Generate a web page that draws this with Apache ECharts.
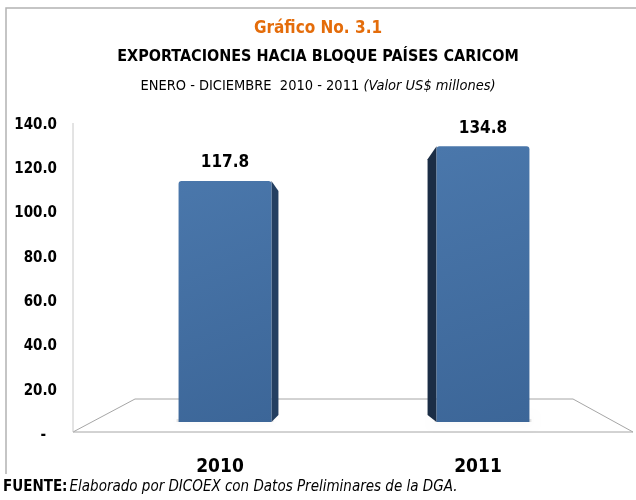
<!DOCTYPE html>
<html>
<head>
<meta charset="utf-8">
<script src="https://cdn.jsdelivr.net/npm/echarts@6/dist/echarts.min.js"></script>
<style>
  html, body { margin: 0; padding: 0; background: #fff; }
  #chart { width: 636px; height: 500px; }
</style>
</head>
<body>
<div id="chart"></div>
<script>
// data
var years = ['2010', '2011'];
var exportValues = [117.8, 134.8];
var yMax = 140;
var yStep = 20;

var FONT = '"Liberation Sans Narrow", "DejaVu Sans Condensed", "Open Sans", sans-serif';

var myChart = echarts.init(document.getElementById('chart'));

// pseudo 3d bar: front face + side face turned towards the middle of the floor
function renderBar(params, api){
	var top = api.coord([api.value(0), api.value(1)]);
	var base = api.coord([api.value(0), 0]);
	var w = api.size([1, 0])[0] * 0.36;
	var x0 = top[0] - w / 2, x1 = top[0] + w / 2;
	var vx = 354;
	var side, dx;
	if(top[0] < vx){
		dx = 7;
		side = [[x1, top[1]], [x1 + dx, top[1] + 10], [x1 + dx, base[1] - 7], [x1, base[1]]];
	} else {
		dx = -9;
		side = [[x0, top[1]], [x0 + dx, top[1] + 13], [x0 + dx, base[1] - 7], [x0, base[1]]];
	}
	return {
		type: 'group',
		children: [
			{
				type: 'rect',
				shape: {x: x0 - 2, y: base[1] - 3, width: w + 4, height: 3},
				style: {fill: 'rgba(0,0,0,0.1)', shadowBlur: 10, shadowColor: 'rgba(0,0,0,0.6)'}
			},
			{
				type: 'polygon',
				shape: {points: side},
				style: {fill: params.dataIndex == 0 ? '#243f61' : '#1b2d45'}
			},
			{
				type: 'rect',
				shape: {x: x0, y: top[1], width: w, height: base[1] - top[1], r: [3, 3, 0, 0]},
				style: {
					fill: new echarts.graphic.LinearGradient(0, 0, 1, 1, [
						{offset: 0, color: '#4a77ab'},
						{offset: 1, color: '#3c6698'}
					])
				}
			},
			{
				type: 'text',
				x: top[0],
				y: top[1] - 18,
				style: {
					text: api.value(1).toFixed(1),
					align: 'center',
					verticalAlign: 'middle',
					font: 'bold 17px ' + FONT,
					fill: '#000'
				}
			}
		]
	};
}

var option = {
	animation: false,
	backgroundColor: '#fff',
	title: [
		{
			text: 'Gráfico No. 3.1',
			left: 'center', top: 15,
			textStyle: {color: '#e46c0a', fontSize: 17, fontWeight: 'bold', fontFamily: FONT}
		},
		{
			text: 'EXPORTACIONES HACIA BLOQUE PAÍSES CARICOM',
			left: 'center', top: 44,
			textStyle: {color: '#000', fontSize: 16, fontWeight: 'bold', fontFamily: FONT}
		},
		{
			text: '{n|ENERO - DICIEMBRE  2010 - 2011 }{i|(Valor US$ millones)}',
			left: 'center', top: 74,
			textStyle: {
				fontWeight: 'normal',
				rich: {
					n: {color: '#000', fontSize: 14.5, fontWeight: 'normal', fontFamily: FONT},
					i: {color: '#000', fontSize: 14.5, fontWeight: 'normal', fontStyle: 'italic', fontFamily: FONT}
				}
			}
		}
	],
	graphic: [
		{type: 'polyline', shape: {points: [[6, 474], [6, 8], [636, 8]]}, style: {stroke: '#b3b3b3', lineWidth: 1.5, fill: null}},
		{type: 'polygon', shape: {points: [[73, 432], [135, 399], [573, 399], [633, 432]]}, style: {stroke: '#a6a6a6', lineWidth: 1, fill: '#fff'}, z: -1},
		{type: 'line', shape: {x1: 73, y1: 123, x2: 73, y2: 432}, style: {stroke: '#c8c8c8', lineWidth: 1}},
		{
			type: 'text', left: 3, top: 480,
			style: {
				text: '{b|FUENTE:}{i|Elaborado por DICOEX con Datos Preliminares de la DGA.}',
				rich: {
					b: {font: 'bold 15px ' + FONT, fill: '#000'},
					i: {font: 'italic 15px ' + FONT, fill: '#000', padding: [0, 0, 0, 2]}
				}
			}
		}
	],
	grid: [
		{left: 73, right: 3, top: 125, bottom: 65},
		{left: 96, right: 24, top: 135.6, bottom: 78}
	],
	xAxis: [
		{type: 'category', gridIndex: 0, data: years, show: false},
		{
			type: 'category', gridIndex: 1, data: years,
			axisLine: {show: false}, axisTick: {show: false},
			axisLabel: {margin: 36, padding: [0, 10, 0, 0], color: '#000', fontSize: 19, fontWeight: 'bold', fontFamily: FONT}
		}
	],
	yAxis: [
		{
			type: 'value', gridIndex: 0, min: 0, max: yMax, interval: yStep,
			axisLine: {show: false}, axisTick: {show: false}, splitLine: {show: false},
			axisLabel: {
				margin: 16, color: '#000', fontSize: 15, fontWeight: 'bold', fontFamily: FONT,
				formatter: function(v){ return v == 0 ? '{d|-}' : v.toFixed(1); },
				rich: {d: {padding: [0, 11, 0, 0], fontSize: 15, fontWeight: 'bold', fontFamily: FONT, color: '#000'}}
			}
		},
		{type: 'value', gridIndex: 1, min: 0, max: yMax, show: false}
	],
	series: [
		{
			type: 'custom',
			xAxisIndex: 1,
			yAxisIndex: 1,
			renderItem: renderBar,
			encode: {x: 0, y: 1},
			data: years.map(function(y, i){ return [i, exportValues[i]]; })
		}
	]
};
myChart.setOption(option);
</script>
</body>
</html>
